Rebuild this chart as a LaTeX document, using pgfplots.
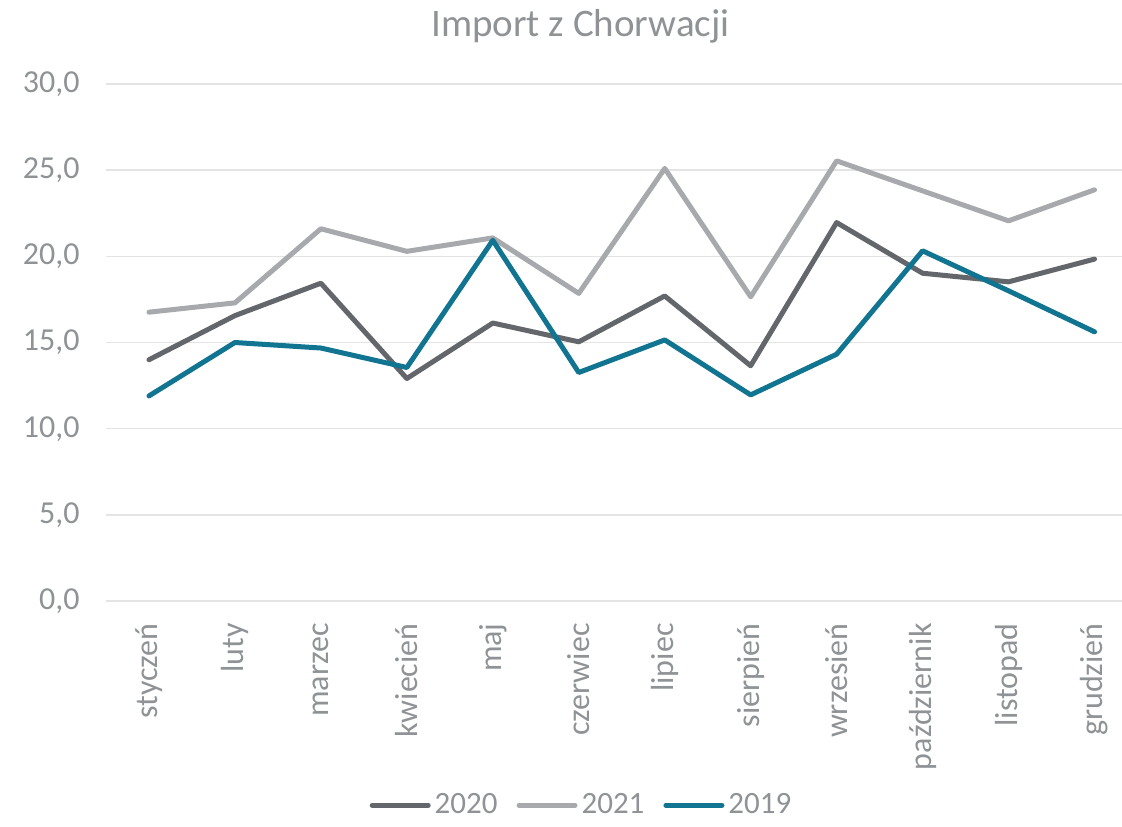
\documentclass[border=0pt]{standalone}
\usepackage{fontspec}
\setmainfont{Carlito}
\usepackage{pgfplots}
\pgfplotsset{compat=1.18}

\definecolor{c2020}{HTML}{63666A}
\definecolor{c2021}{HTML}{A7A9AC}
\definecolor{c2019}{HTML}{117491}
\definecolor{txt}{HTML}{8F9396}
\definecolor{grd}{HTML}{E4E4E4}

\begin{document}
\begin{tikzpicture}
\useasboundingbox (-53pt,-112.5pt) rectangle (508pt,300.5pt);
\begin{axis}[
  scale only axis,
  width=508pt, height=258.5pt,
  xmin=-0.5, xmax=11.32,
  ymin=0, ymax=30,
  xtick={0,...,11},
  xticklabels={styczeń,luty,marzec,kwiecień,maj,czerwiec,lipiec,sierpień,wrzesień,październik,listopad,grudzień},
  ytick={0,5,...,30},
  ymajorgrids,
  grid style={grd, line width=0.8pt},
  axis line style={draw=none},
  major tick length=0pt,
  /pgf/number format/.cd, fixed, fixed zerofill, precision=1, use comma, assume math mode=true,
  /pgfplots/.cd,
  tick label style={font=\fontsize{16}{19}\selectfont, text=txt},
  yticklabel style={anchor=east, inner sep=0pt, xshift=-13pt},
  xticklabel style={yshift=-11pt, rotate=90, anchor=east, inner sep=0pt},
  title={Import z Chorwacji},
  title style={at={(0.467,1)}, anchor=base, yshift=18pt, font=\fontsize{19.5}{23}\selectfont, text=txt},
  legend style={at={(0.469,-0.395)}, anchor=center, draw=none, fill=none,
    font=\fontsize{15.5}{18}\selectfont, text=txt, inner sep=0pt,
    /tikz/every even column/.append style={column sep=7.5pt}},
  legend columns=3,
  legend image code/.code={\draw[#1] (0pt,0pt) -- (28pt,0pt);},
  every axis plot/.append style={line width=2.5pt, line join=round, line cap=round},
]

% 2020
\addplot[c2020] coordinates {
  (0,14.0)(1,16.56)(2,18.44)(3,12.91)(4,16.13)(5,15.04)
  (6,17.7)(7,13.65)(8,21.96)(9,19.02)(10,18.52)(11,19.84)
};
% 2021
\addplot[c2021] coordinates {
  (0,16.76)(1,17.3)(2,21.6)(3,20.29)(4,21.07)(5,17.85)
  (6,25.1)(7,17.65)(8,25.54)(9,23.8)(10,22.06)(11,23.86)
};
% 2019
\addplot[c2019] coordinates {
  (0,11.9)(1,15.0)(2,14.68)(3,13.55)(4,20.93)(5,13.26)
  (6,15.15)(7,11.96)(8,14.32)(9,20.32)(10,18.0)(11,15.62)
};

\legend{2020, 2021, 2019}
\end{axis}
\end{tikzpicture}
\end{document}
